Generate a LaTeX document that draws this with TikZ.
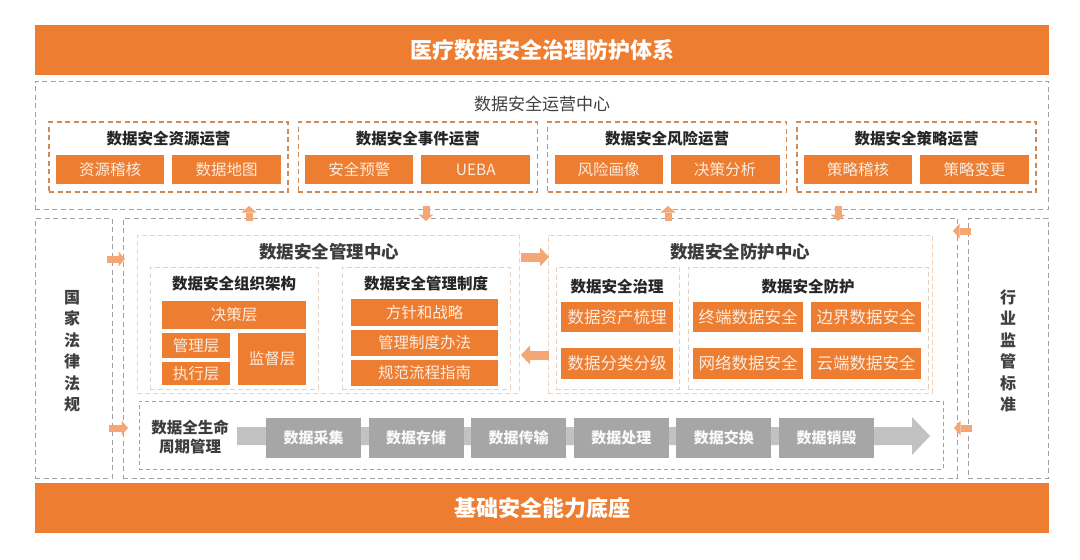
\documentclass[tikz,border=0pt]{standalone}
\usepackage{fontspec}
\setmainfont{Noto Sans CJK SC}
\usetikzlibrary{arrows.meta}
\definecolor{org}{RGB}{237,125,49}
\definecolor{lorg}{RGB}{244,166,116}
\definecolor{dgray}{RGB}{160,160,160}
\definecolor{subdash}{RGB}{204,140,92}
\definecolor{peach}{RGB}{246,208,182}
\definecolor{indash}{RGB}{224,210,200}
\definecolor{itxt}{RGB}{253,236,224}
\definecolor{stg}{RGB}{166,166,166}
\definecolor{shaftc}{RGB}{194,194,194}
\definecolor{tdark}{RGB}{38,38,38}
\definecolor{tmid}{RGB}{64,64,64}
\tikzset{
 bar/.style={fill=org, draw=none, text=white, font=\fontsize{22}{24}\selectfont\bfseries},
 graybox/.style={draw=dgray, line width=1pt, dash pattern=on 5pt off 3.5pt},
 subbox/.style={draw=subdash, line width=1.2pt, dash pattern=on 5pt off 3.5pt},
 centerbox/.style={draw=peach, line width=1pt, dash pattern=on 5pt off 3pt},
 innerbox/.style={draw=indash, line width=1pt, dash pattern=on 5pt off 3pt},
 lifebox/.style={draw=dgray, line width=0.8pt, dash pattern=on 4pt off 3pt},
 item/.style={fill=org, text=itxt, font=\fontsize{15.5}{17}\selectfont},
 bigitem/.style={item, font=\fontsize{16.5}{18}\selectfont},
 stage/.style={fill=stg, text=white!95!gray, font=\fontsize{15}{16}\selectfont\bfseries},
 boxtitle/.style={text=tdark, font=\fontsize{15.5}{17}\selectfont\bfseries, inner sep=0pt},
 centertitle/.style={text=tdark!90, font=\fontsize{17.5}{19}\selectfont\bfseries, inner sep=0pt},
 optitle/.style={text=tmid, font=\fontsize{17}{18}\selectfont, inner sep=0pt},
 vtitle/.style={text=tmid, align=center, font=\fontsize{16}{21.5}\selectfont\bfseries},
 blks/.style={draw=lorg, line width=7pt, -{Triangle[length=6.5pt,width=15pt,line width=0pt]}},
 blkm/.style={draw=lorg, line width=9pt, -{Triangle[length=9pt,width=19pt,line width=0pt]}},
}
\newcommand\bx[7]{%
 \pgfmathsetmacro\bxcx{((#3)+(#5))/2}\pgfmathsetmacro\bxcy{((#4)+(#6))/2}%
 \pgfmathsetmacro\bxw{abs((#5)-(#3))}\pgfmathsetmacro\bxh{abs((#6)-(#4))}%
 \node[#1, minimum width=\bxw pt, minimum height=\bxh pt, inner sep=0pt, anchor=center] (#2) at (\bxcx,\bxcy) {#7};}
\begin{document}
\begin{tikzpicture}[x=1pt,y=-1pt]
\fill[white] (0,0) rectangle (1080,560);
\useasboundingbox (0,0) rectangle (1080,560);

% top and bottom bars
\bx{bar}{topbar}{35}{25}{1049}{75}{医疗数据安全治理防护体系}
\bx{bar}{botbar}{35}{483}{1049}{533}{基础安全能力底座}

% operations center
\bx{graybox}{ops}{35}{81}{1048}{209}{}
\node[optitle] (opst) at (542,104) {数据安全运营中心};
\foreach \L/\t/\a/\b/\n in {49/数据安全资源运营/资源稽核/数据地图/res, 298.3/数据安全事件运营/安全预警/UEBA/evt, 547.7/数据安全风险运营/风险画像/决策分析/risk, 797/数据安全策略运营/策略稽核/策略变更/pol}{
  \bx{subbox}{\n}{\L}{122}{\L+239}{192}{}
  \node[boxtitle] (\n-t) at (\L+119.5,139) {\t};
  \bx{item}{\n-a}{\L+7}{155}{\L+115}{184}{\a}
  \bx{item}{\n-b}{\L+123}{155}{\L+232}{184}{\b}
}

% middle region
\bx{graybox}{law}{35}{218}{112}{478}{}
\bx{graybox}{core}{123}{218}{957}{478}{}
\bx{graybox}{std}{968}{218}{1048}{478}{}
\node[vtitle] (lawt) at (72,351) {国\\家\\法\\律\\法\\规};
\node[vtitle] (stdt) at (1008,351) {行\\业\\监\\管\\标\\准};

% management center
\bx{centerbox}{mgmt}{137}{235}{519}{393}{}
\node[centertitle] (mgmtt) at (329,252) {数据安全管理中心};
\bx{innerbox}{orgb}{150}{267}{318}{389}{}
\node[boxtitle] (orgt) at (234,284) {数据安全组织架构};
\bx{item}{jc}{162}{301}{306}{329}{决策层}
\bx{item}{gl}{162}{333}{230}{358}{管理层}
\bx{item}{zx}{162}{362}{230}{385}{执行层}
\bx{item}{jd}{238}{333}{306}{385}{监督层}
\bx{innerbox}{polb}{342}{267}{510}{389}{}
\node[boxtitle] (polt) at (426,284) {数据安全管理制度};
\bx{item}{fz}{351}{299}{498}{326}{方针和战略}
\bx{item}{zd}{351}{330}{498}{356}{管理制度办法}
\bx{item}{gf}{351}{360}{498}{386}{规范流程指南}

% protection center
\bx{centerbox}{prot}{548}{235}{932}{393}{}
\node[centertitle] (prott) at (740,252) {数据安全防护中心};
\bx{innerbox}{govb}{556}{267}{679}{389}{}
\node[boxtitle] (govt) at (617,287) {数据安全治理};
\bx{bigitem}{zc}{561}{302}{673}{332}{数据资产梳理}
\bx{bigitem}{fl}{561}{348}{673}{379}{数据分类分级}
\bx{innerbox}{defb}{688}{267}{928}{389}{}
\node[boxtitle] (deft) at (808,287) {数据安全防护};
\bx{bigitem}{zd1}{693}{302}{803}{332}{终端数据安全}
\bx{bigitem}{bj}{811}{302}{921}{332}{边界数据安全}
\bx{bigitem}{wl}{693}{348}{803}{379}{网络数据安全}
\bx{bigitem}{yd}{811}{348}{921}{379}{云端数据安全}

% lifecycle
\bx{lifebox}{life}{139}{401}{943}{469}{}
\node[align=center, text=tdark!90, font=\fontsize{15.5}{19}\selectfont\bfseries] (lifet) at (190,437) {数据全生命\\周期管理};
\fill[shaftc] (237,427) -- (912,427) -- (912,417) -- (930,436) -- (912,455) -- (912,445) -- (237,445) -- cycle;
\foreach \i/\s in {0/数据采集,1/数据存储,2/数据传输,3/数据处理,4/数据交换,5/数据销毁}{
  \bx{stage}{st\i}{266+\i*102.6}{418}{361+\i*102.6}{458}{\s}
}

% arrows
\coordinate (a1s) at (249,221); \coordinate (a1e) at (249,206);
\coordinate (a2s) at (426,206); \coordinate (a2e) at (426,221);
\coordinate (a3s) at (668,221); \coordinate (a3e) at (668,206);
\coordinate (a4s) at (838,206); \coordinate (a4e) at (838,221);
\coordinate (l1s) at (107,259); \coordinate (l1e) at (125,259);
\coordinate (l2s) at (109,428); \coordinate (l2e) at (128,428);
\coordinate (r1s) at (971,231); \coordinate (r1e) at (953,231);
\coordinate (r2s) at (972,428); \coordinate (r2e) at (954,428);
\coordinate (m1s) at (521,257); \coordinate (m1e) at (549,257);
\coordinate (m2s) at (549,355); \coordinate (m2e) at (521,355);
\foreach \p in {a1,a2,a3,a4,l1,l2,r1,r2}{\draw[blks] (\p s) -- (\p e);}
\draw[blkm] (m1s) -- (m1e);
\draw[blkm] (m2s) -- (m2e);
\end{tikzpicture}
\end{document}
